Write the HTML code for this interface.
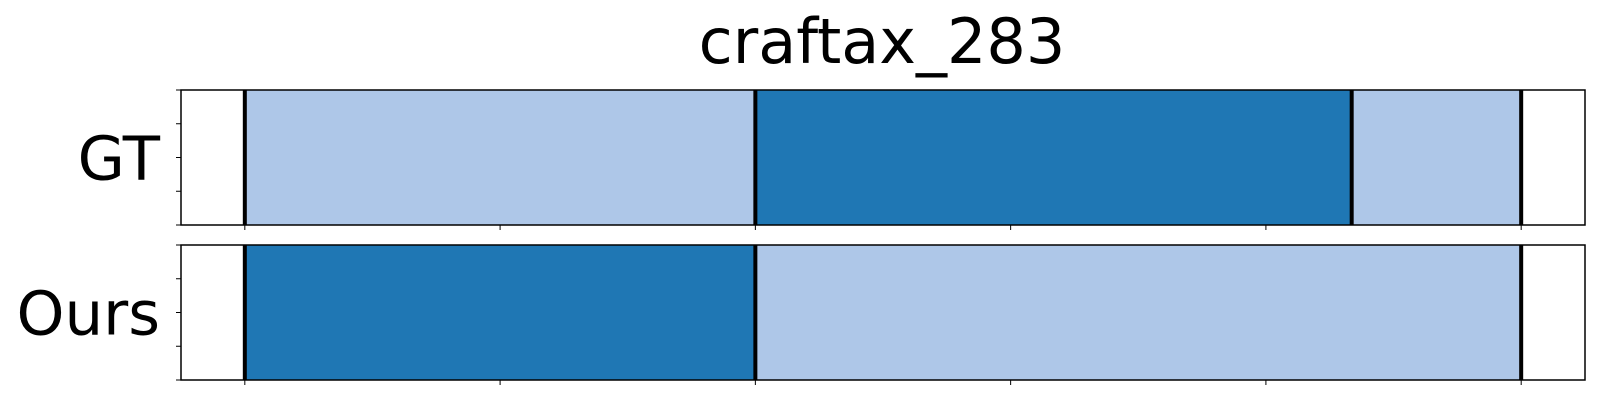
<!DOCTYPE html>
<html><head><meta charset="utf-8"><style>
html,body{margin:0;padding:0;background:#fff;width:1600px;height:400px;overflow:hidden}
svg text{font-family:"DejaVu Sans","Liberation Sans",sans-serif}
</style></head><body>
<svg id="chart" width="1600" height="400" xmlns="http://www.w3.org/2000/svg">
<text x="882" y="63" font-size="62" text-anchor="middle">craftax_283</text>
</svg>
<script>
const rowLabels = ["GT", "Ours"];
const gtStarts = [0, 2, 4.336];
const gtEnds = [2, 4.336, 5];
const gtClasses = [0, 1, 0];
const oursStarts = [0, 2];
const oursEnds = [2, 5];
const oursClasses = [1, 0];
const xTicks = [0, 1, 2, 3, 4, 5];
const yTicks = [0, 0.25, 0.5, 0.75, 1];
const xMin = -0.25, xMax = 5.25;
const colors = ["#aec7e8", "#1f77b4"];
const NS = "http://www.w3.org/2000/svg";
const svg = document.getElementById('chart');
const L = 181, R = 1585;
const panels = [{top: 90, bottom: 225}, {top: 245, bottom: 380}];
function xs(v){ return L + (v - xMin) / (xMax - xMin) * (R - L); }
function mk(tag, attrs){ const e = document.createElementNS(NS, tag); for (const k in attrs) e.setAttribute(k, attrs[k]); svg.appendChild(e); return e; }
const rows = [[gtStarts, gtEnds, gtClasses], [oursStarts, oursEnds, oursClasses]];
rows.forEach((row, ri) => {
  const p = panels[ri];
  const ys = v => p.bottom - v * (p.bottom - p.top);
  const [st, en, cl] = row;
  for (let i = 0; i < st.length; i++) {
    const r = mk('rect', {x: xs(st[i]), y: p.top, width: xs(en[i]) - xs(st[i]), height: p.bottom - p.top, fill: colors[cl[i]]});
    
    
  }
  const bounds = [...new Set([...st, ...en])];
  bounds.forEach(b => {
    const ln = mk('line', {x1: xs(b), x2: xs(b), y1: p.top, y2: p.bottom, stroke: '#000', 'stroke-width': 4});
    
    
  });
  const fr = mk('rect', {x: L, y: p.top, width: R - L, height: p.bottom - p.top, fill: 'none', stroke: '#000', 'stroke-width': 1.5});
  
  
  yTicks.forEach(t => {
    const tk = mk('line', {x1: L - 5, x2: L, y1: ys(t), y2: ys(t), stroke: '#000', 'stroke-width': 1});
    
    
  });
  xTicks.forEach(t => {
    const tk = mk('line', {x1: xs(t), x2: xs(t), y1: p.bottom, y2: p.bottom + 5, stroke: '#000', 'stroke-width': 1});
    
    
  });
  const lb = mk('text', {x: 160, y: (p.top + p.bottom) / 2 + 22, 'font-size': 61, 'text-anchor': 'end'});
  lb.textContent = rowLabels[ri];
  
  
});
</script>
</body></html>
